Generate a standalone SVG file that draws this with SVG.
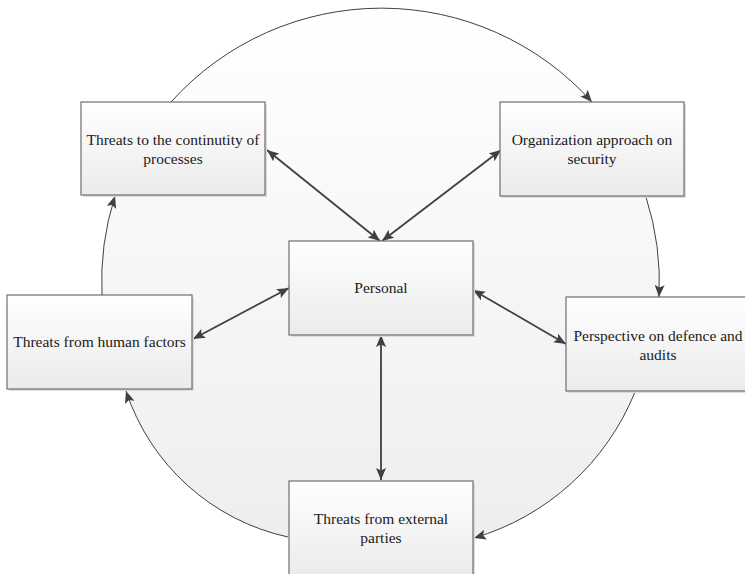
<svg xmlns="http://www.w3.org/2000/svg" width="745" height="574" viewBox="0 0 745 574">
  <defs>
    <linearGradient id="ringFill" x1="0" y1="0" x2="0" y2="1">
      <stop offset="0" stop-color="#ffffff"/>
      <stop offset="1" stop-color="#eeeeee"/>
    </linearGradient>
    <linearGradient id="boxFill" x1="0" y1="0" x2="0" y2="1">
      <stop offset="0" stop-color="#ffffff"/>
      <stop offset="1" stop-color="#ebebeb"/>
    </linearGradient>
    <marker id="ah" viewBox="0 0 12 10" refX="12" refY="5" markerWidth="12" markerHeight="10" orient="auto-start-reverse" markerUnits="userSpaceOnUse">
      <path d="M0,0 L12,5 L0,10 L2.5,5 Z" fill="#404040"/>
    </marker>
  </defs>
  <style>
    .box { fill: url(#boxFill); stroke: #6e6e6e; stroke-width: 1.2; }
    .shadow { fill: #dcdcdc; }
    text { font-family: 'Liberation Serif', 'DejaVu Serif', serif; font-size: 15.5px; fill: #1a1a1a; text-anchor: middle; }
    .arc { fill: none; stroke: #404040; stroke-width: 1; marker-end: url(#ah); }
    .link { fill: none; stroke: #404040; stroke-width: 1.8; marker-start: url(#ah); marker-end: url(#ah); }
  </style>

  <rect width="745" height="574" fill="#ffffff"/>

  <!-- shaded disc bounded by the cycle arcs (straight joins run under the boxes) -->
  <path d="M171,102 A283,283 0 0 1 592,102 L646,197 A280,280 0 0 1 659,297 L635,392 A250,250 0 0 1 474,538 L288,537 A220,220 0 0 1 126,391 L102,295 A280,280 0 0 1 115,196 Z" fill="url(#ringFill)"/>

  <g id="connectors">
    <!-- cycle arcs -->
    <path class="arc" d="M171,102 A283,283 0 0 1 592,102"/>
    <path class="arc" d="M646,197 A280,280 0 0 1 659,297"/>
    <path class="arc" d="M635,392 A250,250 0 0 1 474,538"/>
    <path class="arc" d="M288,537 A220,220 0 0 1 126,391"/>
    <path class="arc" d="M102,295 A280,280 0 0 1 115,196"/>
    <!-- spokes to the centre -->
    <line class="link" x1="267" y1="150" x2="380" y2="241"/>
    <line class="link" x1="501" y1="150" x2="382" y2="241"/>
    <line class="link" x1="193" y1="339" x2="289" y2="288"/>
    <line class="link" x1="473" y1="290" x2="566" y2="344"/>
    <line class="link" x1="381" y1="335" x2="381" y2="480"/>
  </g>

  <g id="node-continuity" font-family="Liberation Serif, DejaVu Serif, serif">
    <rect class="shadow" x="83" y="104" width="184" height="93"/>
    <rect class="box" x="81" y="102" width="184" height="93"/>
    <text x="173" y="145">Threats to the continutity of</text>
    <text x="173" y="164">processes</text>
  </g>

  <g id="node-organization" font-family="Liberation Serif, DejaVu Serif, serif">
    <rect class="shadow" x="502" y="104" width="184" height="94"/>
    <rect class="box" x="500" y="102" width="184" height="94"/>
    <text x="592" y="145">Organization approach on</text>
    <text x="592" y="164">security</text>
  </g>

  <g id="node-personal" font-family="Liberation Serif, DejaVu Serif, serif">
    <rect class="shadow" x="291" y="243" width="184" height="94"/>
    <rect class="box" x="289" y="241" width="184" height="94"/>
    <text x="381" y="293">Personal</text>
  </g>

  <g id="node-human" font-family="Liberation Serif, DejaVu Serif, serif">
    <rect class="shadow" x="9" y="297" width="185" height="94"/>
    <rect class="box" x="7" y="295" width="185" height="94"/>
    <text x="99.5" y="347">Threats from human factors</text>
  </g>

  <g id="node-perspective" font-family="Liberation Serif, DejaVu Serif, serif">
    <rect class="shadow" x="568" y="299" width="184" height="94"/>
    <rect class="box" x="566" y="297" width="184" height="94"/>
    <text x="658" y="340.5">Perspective on defence and</text>
    <text x="658" y="359.5">audits</text>
  </g>

  <g id="node-external" font-family="Liberation Serif, DejaVu Serif, serif">
    <rect class="shadow" x="291" y="483" width="184" height="94"/>
    <rect class="box" x="289" y="481" width="184" height="94"/>
    <text x="381" y="523.5">Threats from external</text>
    <text x="381" y="542.5">parties</text>
  </g>
</svg>
